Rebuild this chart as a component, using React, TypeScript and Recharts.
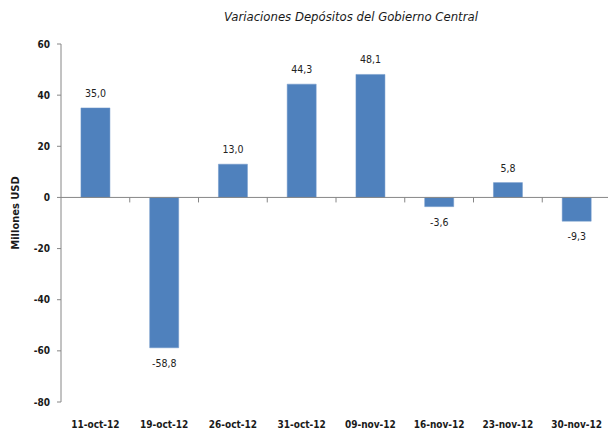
import { Bar, BarChart, LabelList, ReferenceLine, XAxis, YAxis } from "recharts";

const fechas = [
  "11-oct-12",
  "19-oct-12",
  "26-oct-12",
  "31-oct-12",
  "09-nov-12",
  "16-nov-12",
  "23-nov-12",
  "30-nov-12",
];
const variaciones = [35.0, -58.8, 13.0, 44.3, 48.1, -3.6, 5.8, -9.3];
const yTicks = [-80, -60, -40, -20, 0, 20, 40, 60];

const data = fechas.map((fecha, i) => ({ fecha, valor: variaciones[i] }));

const FONT = "'Liberation Sans Narrow', 'DejaVu Sans Condensed', 'Liberation Sans', sans-serif";
const AXIS_COLOR = "#868686";

/** valor con coma decimal, como el original */
const fmt = (v: number) => v.toFixed(1).replace(".", ",");

function ValueLabel(props: any) {
  const { x, y, width, height, value } = props;
  const top = Math.min(y, y + height);
  const bottom = Math.max(y, y + height);
  const cx = x + width / 2;
  const ty = value >= 0 ? top - 15 : bottom + 15;
  return (
    <text
      x={cx}
      y={ty}
      textAnchor="middle"
      dominantBaseline="central"
      fontFamily={FONT}
      fontSize={10.5}
      fill="#222"
    >
      {fmt(value)}
    </text>
  );
}

/** eje en cero con marcas entre categorías (estilo Excel) */
function ZeroAxis(props: any) {
  const { x1, y1, x2 } = props;
  const n = fechas.length;
  const band = (x2 - x1) / n;
  return (
    <g>
      <line x1={x1} y1={y1} x2={x2} y2={y1} stroke={AXIS_COLOR} strokeWidth={1} />
      {fechas.map((_, i) => (
        <line
          key={i}
          x1={x1 + (i + 1) * band}
          x2={x1 + (i + 1) * band}
          y1={y1}
          y2={y1 + 5}
          stroke={AXIS_COLOR}
        />
      ))}
    </g>
  );
}

function CategoryTick(props: any) {
  const { x, payload } = props;
  return (
    <text
      x={x}
      y={424}
      textAnchor="middle"
      dominantBaseline="central"
      fontFamily={FONT}
      fontSize={10}
      fontWeight="bold"
      fill="#1a1a1a"
    >
      {payload.value}
    </text>
  );
}

function YTitle(props: any) {
  const { viewBox } = props;
  const cy = viewBox.y + viewBox.height / 2 - 10;
  return (
    <text
      x={15}
      y={cy}
      transform={`rotate(-90, 15, ${cy})`}
      textAnchor="middle"
      dominantBaseline="central"
      fontFamily={FONT}
      fontSize={11}
      fontWeight="bold"
      fill="#1a1a1a"
    >
      Millones USD
    </text>
  );
}

export default function App() {
  return (
    <div
      style={{
        position: "absolute",
        left: 0,
        top: 0,
        width: 608,
        height: 432,
        overflow: "hidden",
        background: "#fff",
      }}
    >
      <div
        style={{
          position: "absolute",
          left: 0,
          width: 702,
          top: 8,
          textAlign: "center",
          fontFamily: FONT,
          fontStyle: "italic",
          fontSize: 13,
          color: "#1a1a1a",
          lineHeight: "18px",
        }}
      >
        Variaciones Depósitos del Gobierno Central
      </div>
      <BarChart
        width={620}
        height={432}
        data={data}
        margin={{ top: 44, right: 9, bottom: 0, left: 0 }}
        barCategoryGap="29%"
      >
        <XAxis
          dataKey="fecha"
          axisLine={false}
          tickLine={false}
          height={30}
          interval={0}
          tick={<CategoryTick />}
        />
        <YAxis
          width={61}
          domain={[-80, 60]}
          ticks={yTicks}
          interval={0}
          axisLine={{ stroke: AXIS_COLOR }}
          tickLine={{ stroke: AXIS_COLOR }}
          tickSize={4}
          tickMargin={7}
          tick={{ fontFamily: FONT, fontSize: 10, fontWeight: "bold", fill: "#1a1a1a" }}
          label={<YTitle />}
        />
        <ReferenceLine y={0} shape={<ZeroAxis />} />
        <Bar dataKey="valor" fill="#4F81BD" stroke="#6f97c9" strokeWidth={0.5} isAnimationActive={false}>
          <LabelList dataKey="valor" content={<ValueLabel />} />
        </Bar>
      </BarChart>
    </div>
  );
}
